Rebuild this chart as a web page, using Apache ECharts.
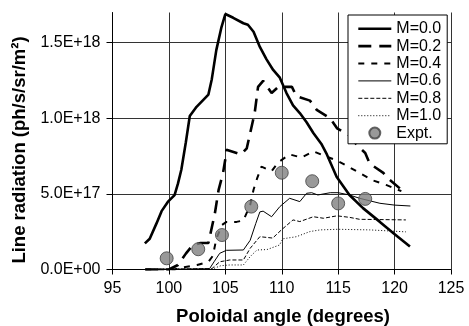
<!DOCTYPE html>
<html>
<head>
<meta charset="utf-8">
<script src="https://cdn.jsdelivr.net/npm/echarts@6/dist/echarts.min.js"></script>
<style>html,body{margin:0;padding:0;background:#fff}#c{width:469px;height:326px}</style>
</head>
<body>
<div id="c"></div>
<script>
// ---- data (poloidal angle in degrees, line radiation in ph/s/sr/m^2) ----
const seriesNames = ['M=0.0', 'M=0.2', 'M=0.4', 'M=0.6', 'M=0.8', 'M=1.0', 'Expt.'];
const xTicks = [95, 100, 105, 110, 115, 120, 125];
const yTicks = [0, 5e17, 1e18, 1.5e18];

const m00 = [[97.87,1.73e17],[98.3,2.03e17],[98.9,3.05e17],[99.35,3.86e17],[99.9,4.47e17],[100.5,4.92e17],[100.8,5.68e17],[101.1,6.6e17],[101.5,8.42e17],[101.85,10.15e17],[102.45,10.76e17],[103.5,11.57e17],[103.8,12.59e17],[104.2,14.51e17],[104.66,16.04e17],[105.0,16.9e17],[105.7,16.65e17],[106.6,16.29e17],[107.0,16.19e17],[107.5,15.73e17],[108.06,14.72e17],[108.65,13.9e17],[109.24,13.2e17],[109.83,12.69e17],[110.42,11.67e17],[111.0,10.86e17],[111.6,10.35e17],[112.2,9.74e17],[112.8,9.03e17],[113.5,8.32e17],[114.0,7.61e17],[114.86,6.14e17],[116.0,4.93e17],[117.2,4.06e17],[118.7,3.15e17],[119.9,2.4e17],[121.36,1.52e17]];
const m02 = [[97.9,0],[100.0,0],[100.8,0.3e17],[101.5,1.05e17],[102.1,1.6e17],[102.8,1.75e17],[103.5,1.75e17],[104.07,3.7e17],[104.4,5.25e17],[104.8,6.4e17],[105.0,7.3e17],[105.1,7.92e17],[106.4,7.61e17],[106.9,8.02e17],[107.6,10.35e17],[107.9,12.08e17],[108.35,12.48e17],[109.1,11.67e17],[109.7,12.08e17],[110.9,12.08e17],[111.3,11.47e17],[112.5,11.17e17],[113.1,10.56e17],[114.3,10.0e17],[114.9,9.34e17],[115.9,8.93e17],[116.8,8.12e17],[117.4,7.71e17],[117.8,7.0e17],[119.0,6.39e17],[119.4,6.04e17],[120.6,5.28e17]];
const m04 = [[97.9,0],[100.5,0],[101.3,0.15e17],[102.5,0.3e17],[103.5,0.51e17],[103.9,0.91e17],[104.2,2.03e17],[104.7,2.94e17],[105.1,3.15e17],[106.0,3.15e17],[106.6,3.25e17],[107.2,4.26e17],[107.5,5.28e17],[107.8,5.99e17],[108.2,6.8e17],[109.1,6.5e17],[109.7,7.1e17],[110.7,7.61e17],[111.75,7.41e17],[112.8,7.82e17],[113.8,7.51e17],[114.9,7.21e17],[115.9,6.8e17],[116.9,6.39e17],[118.1,5.89e17],[119.3,5.58e17],[120.6,5.18e17]];
const m06 = [[97.9,0],[103.6,0.05e17],[104.0,0.51e17],[104.5,1.07e17],[105.1,1.27e17],[106.6,1.29e17],[107.2,1.93e17],[107.7,3.05e17],[108.06,3.81e17],[108.35,3.86e17],[109.1,3.49e17],[109.83,4.16e17],[110.7,4.71e17],[111.6,4.49e17],[112.2,5.04e17],[112.65,5.08e17],[113.2,4.93e17],[114.3,5.08e17],[115.0,5.08e17],[116.0,4.93e17],[116.9,4.71e17],[118.7,4.38e17],[120.0,4.26e17],[121.4,4.2e17]];
const m08 = [[97.9,0],[103.8,0.05e17],[104.5,0.51e17],[105.4,0.63e17],[106.6,0.63e17],[107.2,1.4e17],[108.06,2.17e17],[109.2,2.08e17],[110.0,2.64e17],[111.0,3.28e17],[111.6,3.17e17],[112.8,3.49e17],[113.7,3.39e17],[114.9,3.55e17],[116.0,3.45e17],[116.9,3.32e17],[121.0,3.28e17]];
const m10 = [[97.9,0],[103.9,0.05e17],[104.6,0.25e17],[105.4,0.3e17],[106.6,0.3e17],[107.2,0.85e17],[107.8,1.29e17],[108.7,1.32e17],[109.8,1.62e17],[110.1,2.03e17],[111.3,2.17e17],[112.5,2.51e17],[113.4,2.62e17],[115.0,2.66e17],[117.8,2.62e17],[121.0,2.49e17]];
const expt = [[99.8,0.74e17],[102.6,1.34e17],[104.7,2.28e17],[107.3,4.16e17],[110.0,6.4e17],[112.7,5.84e17],[115.0,4.37e17],[117.4,4.67e17]];

// ---- chart ----
const FONT = '"Liberation Sans", Arial, sans-serif';
const styles = [
  { width: 2.6, type: 'solid' },
  { width: 2.6, type: [13, 8] },
  { width: 2, type: [6, 7] },
  { width: 1, type: 'solid' },
  { width: 1, type: [4, 2] },
  { width: 1, type: [1, 2] }
];
function sci(v) {
  if (v === 0) return '0.0E+00';
  const e = Math.floor(Math.log10(v) + 1e-9);
  const m = v / Math.pow(10, e);
  return m.toFixed(1) + 'E+' + String(e).padStart(2, '0');
}
function lineSeries(i, data) {
  return {
    name: seriesNames[i], type: 'line', data, showSymbol: false, symbol: 'none', smooth: false,
    animation: false,
    itemStyle: { color: '#000' },
    lineStyle: { color: '#000', width: styles[i].width, type: styles[i].type }
  };
}
const legendData = seriesNames.map((n, i) =>
  i < 6 ? { name: n, itemStyle: { opacity: 0 },
            lineStyle: { color: '#000', width: styles[i].width, type: styles[i].type } }
        : { name: n });

const chart = echarts.init(document.getElementById('c'), null, { renderer: 'canvas' });
chart.setOption({
  animation: false,
  backgroundColor: '#fff',
  grid: { left: 112.5, right: 18, top: 12.5, bottom: 56.5, containLabel: false },
  xAxis: {
    type: 'value', min: xTicks[0], max: xTicks[xTicks.length - 1], interval: 5,
    axisLine: { show: true, lineStyle: { color: '#000', width: 1 } },
    axisTick: { show: true, length: 5, lineStyle: { color: '#000' } },
    axisLabel: { color: '#000', fontFamily: FONT, fontSize: 16, margin: 11 },
    splitLine: { show: true, showMinLine: false, lineStyle: { color: '#333', width: 1 } }
  },
  yAxis: {
    type: 'value', min: 0, max: 1.7e18, interval: 5e17,
    axisLine: { show: true, lineStyle: { color: '#000', width: 1 } },
    axisTick: { show: true, length: 6, customValues: yTicks, lineStyle: { color: '#000' } },
    axisLabel: { color: '#000', fontFamily: FONT, fontSize: 16, margin: 12, customValues: yTicks, formatter: sci },
    splitLine: { show: true, showMinLine: false, lineStyle: { color: '#333', width: 1 } }
  },
  legend: {
    orient: 'vertical', left: 348, top: 15,
    data: legendData,
    backgroundColor: '#fff', borderColor: '#000', borderWidth: 1,
    padding: [5, 6, 2, 9],
    itemWidth: 33, itemHeight: 11, itemGap: 0,
    textStyle: { color: '#000', fontFamily: FONT, fontSize: 16, lineHeight: 17.4 }
  },
  graphic: [
    { type: 'text', x: 20, y: 150, rotation: Math.PI / 2,
      style: { text: 'Line radiation (ph/s/sr/m²)', font: 'bold 18.5px ' + FONT, fill: '#000', align: 'center', verticalAlign: 'middle' } },
    { type: 'text', x: 283, y: 317,
      style: { text: 'Poloidal angle (degrees)', font: 'bold 18.5px ' + FONT, fill: '#000', align: 'center', verticalAlign: 'middle' } }
  ],
  series: [
    lineSeries(0, m00),
    lineSeries(1, m02),
    lineSeries(2, m04),
    lineSeries(3, m06),
    lineSeries(4, m08),
    lineSeries(5, m10),
    {
      name: seriesNames[6], type: 'scatter', data: expt, symbol: 'circle', symbolSize: 13,
      itemStyle: { color: '#808080', borderColor: '#404040', borderWidth: 1 }, z: 5
    }
  ]
});
</script>
</body>
</html>
